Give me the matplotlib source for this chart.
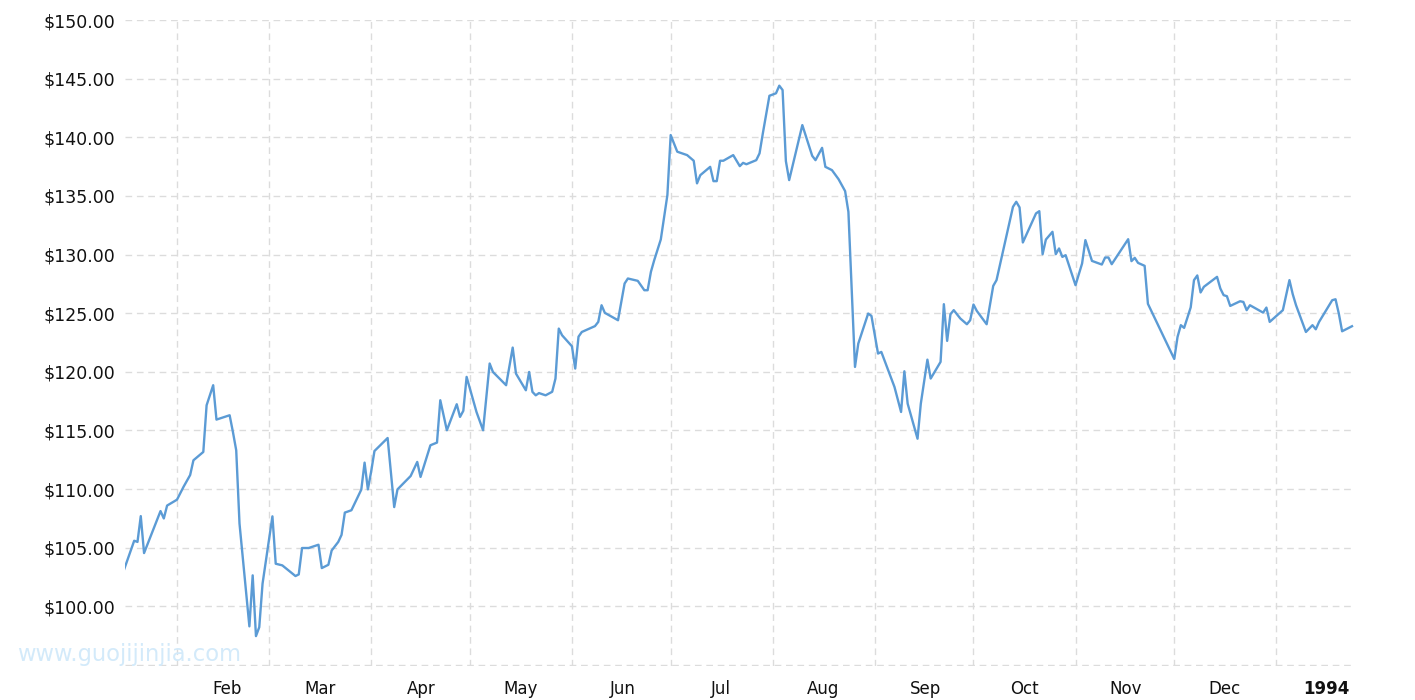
import matplotlib
matplotlib.use("Agg")
import matplotlib.pyplot as plt
import matplotlib.dates as mdates
from matplotlib.ticker import FixedLocator, FixedFormatter, FuncFormatter
import datetime as dt

plt.rcParams["font.family"] = ["DejaVu Sans"]

# ---- data ----
dates = [
    "1993-01-16", "1993-01-19", "1993-01-20", "1993-01-21", "1993-01-22", "1993-01-27",
    "1993-01-28", "1993-01-29", "1993-02-01", "1993-02-03", "1993-02-05", "1993-02-06",
    "1993-02-09", "1993-02-10", "1993-02-12", "1993-02-13", "1993-02-17", "1993-02-18",
    "1993-02-19", "1993-02-20", "1993-02-23", "1993-02-24", "1993-02-25", "1993-02-26",
    "1993-02-27", "1993-03-02", "1993-03-03", "1993-03-05", "1993-03-09", "1993-03-10",
    "1993-03-11", "1993-03-13", "1993-03-16", "1993-03-17", "1993-03-19", "1993-03-20",
    "1993-03-22", "1993-03-23", "1993-03-24", "1993-03-26", "1993-03-29", "1993-03-30",
    "1993-03-31", "1993-04-01", "1993-04-02", "1993-04-06", "1993-04-08", "1993-04-09",
    "1993-04-13", "1993-04-15", "1993-04-16", "1993-04-19", "1993-04-21", "1993-04-22",
    "1993-04-24", "1993-04-27", "1993-04-28", "1993-04-29", "1993-04-30", "1993-05-03",
    "1993-05-05", "1993-05-07", "1993-05-08", "1993-05-12", "1993-05-14", "1993-05-15",
    "1993-05-18", "1993-05-19", "1993-05-20", "1993-05-21", "1993-05-22", "1993-05-24",
    "1993-05-26", "1993-05-27", "1993-05-28", "1993-05-29", "1993-06-01", "1993-06-02",
    "1993-06-03", "1993-06-04", "1993-06-08", "1993-06-09", "1993-06-10", "1993-06-11",
    "1993-06-15", "1993-06-17", "1993-06-18", "1993-06-21", "1993-06-23", "1993-06-24",
    "1993-06-25", "1993-06-26", "1993-06-28", "1993-06-30", "1993-07-01", "1993-07-03",
    "1993-07-06", "1993-07-08", "1993-07-09", "1993-07-10", "1993-07-13", "1993-07-14",
    "1993-07-15", "1993-07-16", "1993-07-17", "1993-07-20", "1993-07-22", "1993-07-23",
    "1993-07-24", "1993-07-27", "1993-07-28", "1993-07-29", "1993-07-31", "1993-08-02",
    "1993-08-03", "1993-08-04", "1993-08-05", "1993-08-06", "1993-08-10", "1993-08-13",
    "1993-08-14", "1993-08-16", "1993-08-17", "1993-08-19", "1993-08-21", "1993-08-23",
    "1993-08-24", "1993-08-26", "1993-08-27", "1993-08-30", "1993-08-31", "1993-09-02",
    "1993-09-03", "1993-09-07", "1993-09-09", "1993-09-10", "1993-09-11", "1993-09-14",
    "1993-09-15", "1993-09-17", "1993-09-18", "1993-09-21", "1993-09-22", "1993-09-23",
    "1993-09-24", "1993-09-25", "1993-09-27", "1993-09-29", "1993-09-30", "1993-10-01",
    "1993-10-02", "1993-10-05", "1993-10-07", "1993-10-08", "1993-10-13", "1993-10-14",
    "1993-10-15", "1993-10-16", "1993-10-20", "1993-10-21", "1993-10-22", "1993-10-23",
    "1993-10-25", "1993-10-26", "1993-10-27", "1993-10-28", "1993-10-29", "1993-11-01",
    "1993-11-03", "1993-11-04", "1993-11-06", "1993-11-09", "1993-11-10", "1993-11-11",
    "1993-11-12", "1993-11-17", "1993-11-18", "1993-11-19", "1993-11-20", "1993-11-22",
    "1993-11-23", "1993-12-01", "1993-12-02", "1993-12-03", "1993-12-04", "1993-12-06",
    "1993-12-07", "1993-12-08", "1993-12-09", "1993-12-10", "1993-12-14", "1993-12-15",
    "1993-12-16", "1993-12-17", "1993-12-18", "1993-12-21", "1993-12-22", "1993-12-23",
    "1993-12-24", "1993-12-28", "1993-12-29", "1993-12-30", "1994-01-03", "1994-01-05",
    "1994-01-06", "1994-01-07", "1994-01-10", "1994-01-12", "1994-01-13", "1994-01-14",
    "1994-01-18", "1994-01-19", "1994-01-20", "1994-01-21", "1994-01-24",
]
prices = [
    103.20, 105.60, 105.50, 107.70, 104.55, 108.13,
    107.50, 108.60, 109.10, 110.20, 111.20, 112.46,
    113.17, 117.15, 118.86, 115.93, 116.30, 114.87,
    113.31, 107.06, 98.30, 102.65, 97.47, 98.23,
    101.94, 107.68, 103.64, 103.50, 102.59, 102.73,
    104.98, 104.98, 105.26, 103.27, 103.55, 104.77,
    105.50, 106.10, 108.00, 108.20, 109.96, 112.26,
    109.98, 111.50, 113.25, 114.36, 108.47, 109.98,
    111.12, 112.32, 111.04, 113.74, 113.97, 117.58,
    115.02, 117.24, 116.16, 116.68, 119.57, 116.58,
    115.02, 120.71, 119.99, 118.86, 122.07, 119.85,
    118.43, 119.99, 118.29, 118.00, 118.19, 118.00,
    118.30, 119.43, 123.69, 123.12, 122.18, 120.28,
    123.00, 123.40, 123.90, 124.26, 125.68, 125.03,
    124.40, 127.53, 127.96, 127.76, 126.96, 126.96,
    128.53, 129.52, 131.29, 135.07, 140.19, 138.77,
    138.48, 138.00, 136.07, 136.77, 137.48, 136.26,
    136.26, 138.00, 138.00, 138.48, 137.54, 137.82,
    137.70, 138.05, 138.63, 140.33, 143.54, 143.75,
    144.40, 144.03, 137.97, 136.35, 141.04, 138.42,
    138.05, 139.10, 137.48, 137.20, 136.43, 135.41,
    133.64, 120.42, 122.41, 124.97, 124.77, 121.56,
    121.70, 118.71, 116.58, 120.05, 117.29, 114.30,
    117.29, 121.04, 119.43, 120.85, 125.77, 122.64,
    124.91, 125.26, 124.55, 124.06, 124.40, 125.74,
    125.20, 124.06, 127.33, 127.82, 134.07, 134.50,
    134.02, 131.03, 133.51, 133.70, 130.03, 131.28,
    131.94, 130.03, 130.52, 129.80, 129.95, 127.39,
    129.24, 131.23, 129.46, 129.15, 129.75, 129.75,
    129.18, 131.31, 129.44, 129.72, 129.29, 129.04,
    125.80, 121.10, 122.98, 123.98, 123.75, 125.50,
    127.82, 128.22, 126.77, 127.25, 128.10, 127.11,
    126.54, 126.45, 125.62, 126.02, 125.96, 125.26,
    125.68, 125.05, 125.48, 124.26, 125.26, 127.82,
    126.62, 125.68, 123.40, 123.98, 123.63, 124.26,
    126.11, 126.19, 124.97, 123.46, 123.89,
]
month_labels = ["Feb", "Mar", "Apr", "May", "Jun", "Jul", "Aug", "Sep", "Oct", "Nov", "Dec", "1994"]
y_ticks = [95, 100, 105, 110, 115, 120, 125, 130, 135, 140, 145, 150]

# ---- figure ----
W, H = 1415, 700
fig = plt.figure(figsize=(W / 100, H / 100), dpi=100)
ax = fig.add_axes([125 / W, 34 / H, 1230 / W, 646 / H])

x = [dt.datetime.strptime(d, "%Y-%m-%d") for d in dates]
ax.plot(x, prices, color="#5b9bd5", lw=1.7, solid_joinstyle="round", zorder=3)

ax.set_ylim(94.92, 150)
ax.set_xlim(dt.datetime(1993, 1, 16, 5), dt.datetime(1994, 1, 24, 22))

grid_kw = dict(color="#dcdcdc", lw=1.0, linestyle=(0, (4.8, 3.4)))

ax.yaxis.set_major_locator(FixedLocator(y_ticks))
ax.yaxis.set_major_formatter(FuncFormatter(lambda v, p: "" if v < 99 else f"${v:,.2f}"))
ax.yaxis.grid(True, **grid_kw)

month_starts = [dt.datetime(1993, m, 1) for m in range(2, 13)] + [dt.datetime(1994, 1, 1)]
label_pos = [mdates.date2num(m) + 15.35 for m in month_starts]
ax.xaxis.set_minor_locator(FixedLocator(mdates.date2num(month_starts)))
ax.xaxis.set_major_locator(FixedLocator(label_pos))
ax.xaxis.set_major_formatter(FixedFormatter(month_labels))
ax.xaxis.grid(True, which="minor", **grid_kw)
ax.xaxis.grid(False, which="major")

ax.tick_params(axis="both", which="both", length=0)
ax.tick_params(axis="y", labelsize=12.5, pad=7, colors="#111111")
ax.tick_params(axis="x", labelsize=12, pad=10, colors="#111111")
for s in ax.spines.values():
    s.set_visible(False)

for lab in ax.get_xticklabels():
    if lab.get_text() == "1994":
        lab.set_fontweight("bold")

fig.text(17 / W, 1 - 654 / H, "www.guojijinjia.com", fontsize=16.3, color="#d3eafa",
         va="center", ha="left", zorder=0)

fig.savefig("out.png", dpi=100, facecolor="white")
